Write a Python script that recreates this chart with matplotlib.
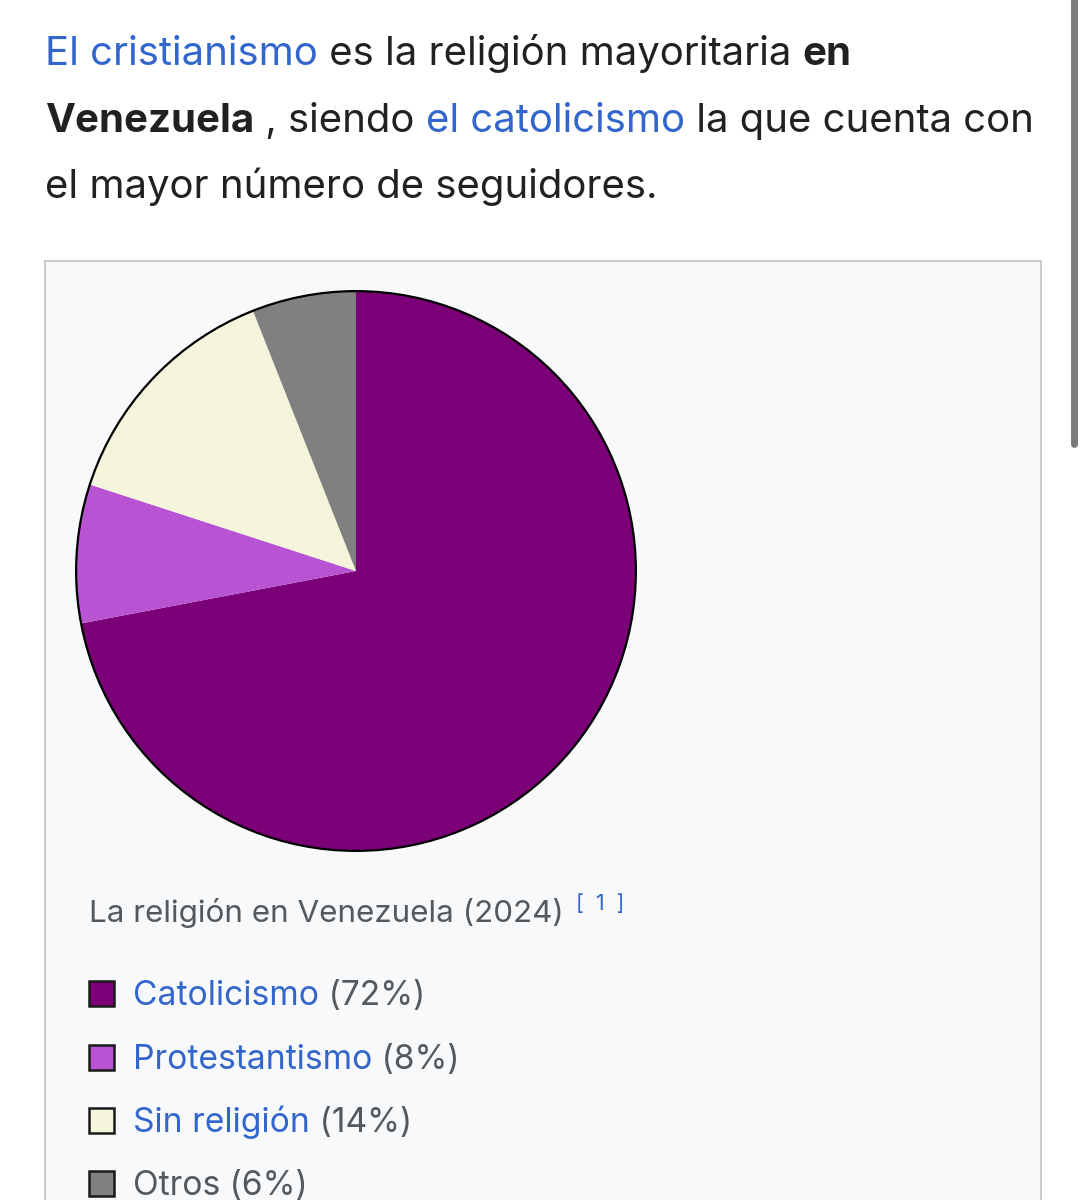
import matplotlib
matplotlib.use("Agg")
import matplotlib.pyplot as plt
from matplotlib.patches import Rectangle, Circle

# ---- data ----
categories = ["Catolicismo", "Protestantismo", "Sin religión", "Otros"]
values = [72, 8, 14, 6]
colors = ["#7b0078", "#b853d4", "#f5f5dc", "#808080"]
linked = [True, True, True, False]
caption = "La religión en Venezuela (2024)"
ref_mark = "[  1  ]"
paragraph = [
    [("El cristianismo", "link", "normal"), (" es la religión mayoritaria ", "text", "normal"), ("en", "text", "bold")],
    [("Venezuela", "text", "bold"), (" , siendo ", "text", "normal"), ("el catolicismo", "link", "normal"), (" la que cuenta con", "text", "normal")],
    [("el mayor número de seguidores.", "text", "normal")],
]

W, H = 1087, 1200
FONT = ["Inter", "DejaVu Sans"]
LINK = "#3366cc"
TEXT = "#202122"
GRAY = "#54595d"

fig = plt.figure(figsize=(W / 100, H / 100), dpi=100)
fig.patch.set_facecolor("white")
bg = fig.add_axes([0, 0, 1, 1])
bg.set_xlim(0, W)
bg.set_ylim(H, 0)
bg.axis("off")
renderer = fig.canvas.get_renderer()


def run(x, y, pieces, size, colmap):
    for txt, kind, weight in pieces:
        t = bg.text(x, y, txt, fontsize=size, color=colmap[kind], fontweight=weight,
                    family=FONT, va="baseline", ha="left")
        x += t.get_window_extent(renderer).width
    return x


# paragraph
baselines = [65, 132, 198]
for line, yb in zip(paragraph, baselines):
    run(45, yb, line, 28.9, {"link": LINK, "text": TEXT})

# box
bg.add_patch(Rectangle((45, 261), 996, 1000, facecolor="#f8f9fa", edgecolor="#c8ccd1", lw=1.5))

# scrollbar
bg.plot([1074, 1074], [-5, 444], color="#7a7a7a", lw=5, solid_capstyle="round")

# pie
cx, cy, r = 356, 571, 281
pax = fig.add_axes([(cx - r) / W, (H - cy - r) / H, 2 * r / W, 2 * r / H])
pax.pie(values, colors=colors, startangle=90, counterclock=False,
        wedgeprops=dict(linewidth=0, edgecolor="none", antialiased=True))
pax.add_patch(Circle((0, 0), 1, facecolor="none", edgecolor="black", lw=1.6))
pax.set_xlim(-1.004, 1.004)
pax.set_ylim(-1.004, 1.004)
pax.set_aspect("equal")
pax.axis("off")

# caption
xe = run(89, 922, [(caption, "g", "normal")], 22.6, {"g": GRAY})
bg.text(xe + 12, 910, ref_mark, fontsize=15.5, color=LINK, family=FONT, va="baseline")

# legend
rows = [993, 1057, 1120, 1183]
for cat, v, c, lk, yc in zip(categories, values, colors, linked, rows):
    bg.add_patch(Rectangle((89, yc - 12), 25, 25, facecolor=c, edgecolor="#1a1a1a", lw=1.8))
    run(133, yc + 12, [(cat, "link" if lk else "g", "normal"), (f" ({v}%)", "g", "normal")],
        24.2, {"link": LINK, "g": GRAY})

fig.savefig("out.png", dpi=100, facecolor="white")
